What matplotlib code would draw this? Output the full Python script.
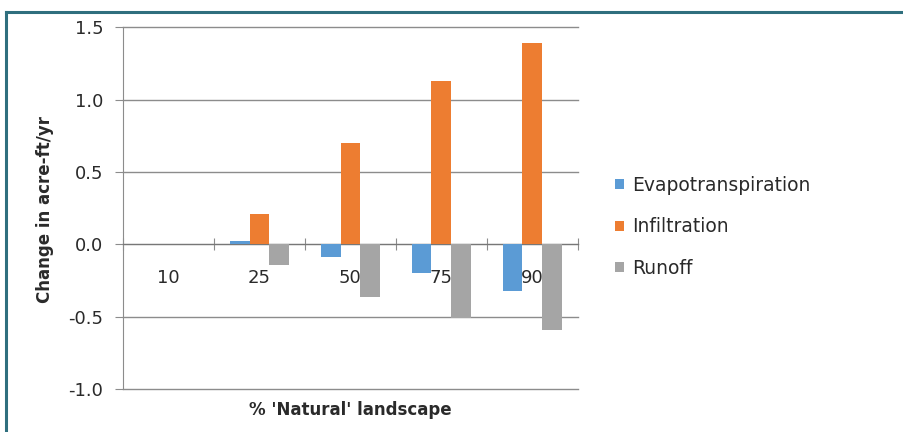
import numpy as np
import matplotlib.pyplot as plt
from matplotlib.lines import Line2D
from matplotlib.patches import Patch

# data
categories = ['10', '25', '50', '75', '90']
evapotranspiration = [0.0, 0.025, -0.09, -0.20, -0.32]
infiltration = [0.0, 0.21, 0.70, 1.13, 1.39]
runoff = [0.0, -0.14, -0.36, -0.51, -0.59]

series = [('Evapotranspiration', evapotranspiration, '#5B9BD5'),
          ('Infiltration', infiltration, '#ED7D31'),
          ('Runoff', runoff, '#A5A5A5')]

plt.rcParams['font.family'] = ['DejaVu Sans']

fig = plt.figure(figsize=(9.04, 4.32), dpi=100)
ax = fig.add_axes([0.136, 0.099, 0.503, 0.838])

x = np.arange(len(categories))
width = 0.215
for i, (name, vals, col) in enumerate(series):
    ax.bar(x + (i - 1) * width, vals, width, color=col, zorder=3)

ax.set_xlim(-0.5, len(categories) - 0.5)
ax.set_ylim(-1.0, 1.5)
ax.set_yticks([-1.0, -0.5, 0.0, 0.5, 1.0, 1.5])
ax.set_yticklabels(['-1.0', '-0.5', '0.0', '0.5', '1.0', '1.5'])
ax.yaxis.grid(True, color='#8c8c8c', linewidth=1.0, zorder=0)
for gl in ax.get_ygridlines():
    gl.set_clip_on(False)
ax.tick_params(axis='y', length=6, color='#8c8c8c', labelsize=13,
               labelcolor='#2a2a2a', pad=8)

# horizontal axis crosses at zero, ticks between categories
ax.spines['bottom'].set_position(('data', 0))
ax.spines['bottom'].set_color('#777777')
ax.spines['left'].set_color('#8c8c8c')
ax.spines['top'].set_visible(False)
ax.spines['right'].set_visible(False)
ax.set_xticks(np.arange(len(categories) + 1) - 0.5)
ax.set_xticklabels([])
ax.tick_params(axis='x', direction='inout', length=8, color='#8c8c8c')

for i, c in enumerate(categories):
    ax.annotate(c, xy=(i, 0), xytext=(0, -24), textcoords='offset points',
                ha='center', va='center', fontsize=13, color='#2a2a2a',
                zorder=5)

fig.text(0.050, 0.516, 'Change in acre-ft/yr', rotation=90, ha='center',
         va='center', fontsize=12, fontweight='bold', color='#2a2a2a')
fig.text(0.388, 0.051, "% 'Natural' landscape", ha='center', va='center',
         fontsize=12, fontweight='bold', color='#2a2a2a')

handles = [Patch(facecolor=col, edgecolor='none') for _, _, col in series]
fig.legend(handles, [s[0] for s in series], loc='center left',
           bbox_to_anchor=(0.662, 0.475), frameon=False, fontsize=13.5,
           handlelength=0.45, handleheight=0.45, handletextpad=0.45,
           labelspacing=1.2, labelcolor='#2a2a2a')

# teal frame on top and left edges
fig.add_artist(Line2D([6.5 / 904, 1], [1 - 11.5 / 432] * 2, color='#2F6F7E',
                      linewidth=2.2, transform=fig.transFigure))
fig.add_artist(Line2D([6.5 / 904] * 2, [0, 1 - 11.5 / 432], color='#2F6F7E',
                      linewidth=2.2, transform=fig.transFigure))

fig.savefig('out.png', dpi=100)
